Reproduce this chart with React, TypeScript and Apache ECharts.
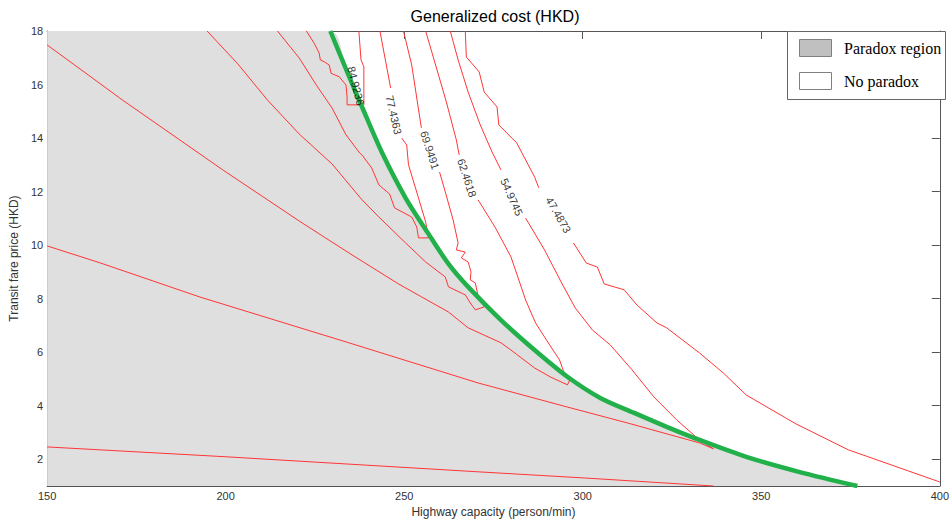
import { useEffect, useRef } from 'react';
import * as echarts from 'echarts';

// ---- axes ----
const X_MIN = 150;
const X_MAX = 400;
const X_STEP = 50;
const Y_MIN = 1;
const Y_MAX = 18;
const yTickValues = [2, 4, 6, 8, 10, 12, 14, 16, 18];

const TITLE = 'Generalized cost (HKD)';
const X_NAME = 'Highway capacity (person/min)';
const Y_NAME = 'Transit fare price (HKD)';
const legendNames = ['Paradox region', 'No paradox'];

// ---- paradox boundary (green) ----
const greenX = [229.3, 233.7, 238.2, 243.7, 250.4, 256.8, 262.4, 267.9, 277.1, 286.5, 295.7, 304.9, 314.4, 323.5, 332.7, 345.8, 360.5, 376.9];
const greenY = [18, 16.58, 15.16, 13.48, 11.76, 10.42, 9.3, 8.44, 7.2, 6.08, 5.08, 4.29, 3.73, 3.21, 2.72, 2.09, 1.53, 1.0];

// ---- contour lines (null = gap for the label) ----
type P = [number, number] | null;
const c849: P[] = [[222.6, 18], [224.8, 17.54], [226.2, 17.17], [226.5, 16.92], [227.6, 16.85], [229.0, 16.73], [229.5, 16.42], [231.8, 16.29], [233.7, 15.98], [234.0, 15.53], [234.0, 15.24], [238.7, 15.24], [238.7, 16.66], [237.9, 16.92], [237.3, 18]];
const c774: P[] = [[214.5, 18], [220.6, 16.99], [225.4, 15.98], [229.8, 15.12], [233.7, 14.12], [237.3, 13.48], [238.4, 13.33], [240.9, 12.88], [242.9, 12.25], [245.9, 11.91], [247.3, 11.39], [252.1, 11.05], [253.5, 10.68], [254.0, 10.27], [256.8, 10.27], [256.0, 10.87], [254.0, 11.76], [251.2, 13.0], [250.7, 13.74], [249.3, 14.0], null, [246.2, 15.87], [243.2, 18]];
const c699: P[] = [[194.8, 18], [203.4, 16.77], [211.7, 15.42], [220.6, 14.15], [229.8, 13.03], [234.5, 12.28], [238.2, 11.69], [242.9, 11.05], [250.4, 10.08], [256.0, 9.37], [261.5, 8.81], [262.4, 8.44], [267.1, 8.14], [268.5, 7.84], [269.9, 7.58], [272.4, 7.69], [271.5, 8.03], [270.7, 8.1], [269.9, 8.59], [268.5, 8.7], [268.7, 9.0], [267.9, 9.37], [266.0, 9.52], [267.1, 9.74], [264.6, 9.82], [265.1, 10.08], [263.7, 10.94], [261.5, 11.99], [259.9, 12.73], null, [254.8, 14.38], [252.1, 16.73], [249.8, 18]];
const c625: P[] = [[256.0, 18], [259.6, 16.36], [261.8, 15.35], [264.6, 13.93], [265.4, 13.37], null, [270.7, 11.69], [275.4, 10.68], [279.9, 9.56], [282.1, 8.7], [284.0, 7.95], [286.8, 7.09], [290.2, 6.38], [293.5, 5.71], [295.2, 5.07], [296.3, 4.93], [295.7, 4.78], [291.0, 5.07], [286.5, 5.41], [279.9, 6.08], [277.1, 6.35], [267.9, 6.91], [262.4, 7.5], [248.4, 8.55], [234.5, 9.71], [220.6, 10.9], [199.2, 12.81], [171.1, 15.42], [150, 17.48]];
const c550: P[] = [[262.9, 18], [265.1, 16.92], [267.9, 15.72], [271.3, 14.49], [274.6, 13.48], [277.1, 12.81], null, [284.0, 11.01], [289.3, 9.82], [293.8, 8.66], [297.9, 7.65], [302.7, 6.83], [307.7, 6.27], [313.8, 5.34], [319.9, 4.33], [326.3, 3.47], [332.7, 2.72], [335.2, 2.5], [336.6, 2.39], [332.7, 2.61], [312.4, 3.36], [295.7, 3.95], [270.7, 4.85], [234.5, 6.35], [192.8, 8.06], [165.0, 9.33], [150, 9.97]];
const c475: P[] = [[267.1, 18], [267.4, 17.03], [271.0, 16.47], [272.4, 15.72], [276.0, 15.16], [276.5, 14.49], [281.5, 13.82], [286.5, 12.55], [287.7, 12.14], null, [297.4, 10.08], [301.0, 9.33], [304.1, 9.18], [306.0, 8.55], [311.6, 8.33], [315.2, 7.76], [320.8, 7.09], [323.5, 6.91], [332.7, 5.97], [339.4, 5.22], [345.8, 4.4], [359.7, 3.32], [374.4, 2.35], [400, 1.15]];
const c400: P[] = [[150, 2.46], [200.3, 2.09], [270.7, 1.53], [300.5, 1.3], [336.6, 1.0]];
const contours = [c849, c774, c699, c625, c550, c475, c400];

// ---- contour labels ----
const labelText = ['84.9236', '77.4363', '69.9491', '62.4618', '54.9745', '47.4873'];
const labelX = [236.5, 247.1, 257.2, 267.6, 280.1, 293.2];
const labelY = [15.95, 14.86, 13.55, 12.51, 11.8, 11.13];
const labelRotate = [-76, -77, -72, -72, -66, -60];

const RED = '#ff3535';
const GREEN = '#22b04b';
const GRAY = '#dfdfdf';
const AXIS = '#555555';
const SANS = '"Liberation Sans", Arial, sans-serif';
const SERIF = '"Liberation Serif", "Times New Roman", serif';

function splitSegments(pts: P[]): [number, number][][] {
  const out: [number, number][][] = [];
  let cur: [number, number][] = [];
  pts.forEach((p) => {
    if (p === null) {
      if (cur.length) out.push(cur);
      cur = [];
    } else cur.push(p);
  });
  if (cur.length) out.push(cur);
  return out;
}

export default function App() {
  const ref = useRef<HTMLDivElement>(null);
  useEffect(() => {
    const chart = echarts.init(ref.current!, null, { renderer: 'svg' });
    const green = greenX.map((x, i) => [x, greenY[i]]);
    const areaData = [[X_MIN, Y_MAX], ...green];

    const series: any[] = [];
    series.push({
      type: 'line',
      data: areaData,
      symbol: 'none',
      smooth: 0.3,
      lineStyle: { width: 0 },
      areaStyle: { color: GRAY, opacity: 1, origin: 'start' },
      silent: true,
      z: 1,
    });
    contours.forEach((c) => {
      splitSegments(c).forEach((seg) => {
        series.push({
          type: 'line',
          data: seg,
          symbol: 'none',
          lineStyle: { color: RED, width: 1 },
          silent: true,
          z: 2,
        });
      });
    });
    series.push({
      type: 'line',
      data: green,
      symbol: 'none',
      smooth: 0.3,
      lineStyle: { color: GREEN, width: 4.5 },
      silent: true,
      z: 3,
    });
    series.push({
      type: 'scatter',
      symbolSize: 1,
      itemStyle: { color: 'rgba(0,0,0,0)' },
      silent: true,
      z: 4,
      data: labelText.map((t, i) => ({
        value: [labelX[i], labelY[i]],
        label: {
          show: true,
          position: 'inside',
          formatter: t,
          rotate: labelRotate[i],
          color: '#000',
          fontSize: 11,
          fontFamily: SANS,
        },
      })),
    });

    const tick = { inside: true, length: 8, lineStyle: { color: AXIS, width: 1 } };
    const line = { show: true, onZero: false, lineStyle: { color: AXIS, width: 1 } };
    const lbl = { color: '#333', fontSize: 11, fontFamily: SANS, margin: 4 };

    const option: any = {
      animation: false,
      backgroundColor: '#fff',
      grid: { left: 46, right: 6.5, top: 31, bottom: 39, containLabel: false },
      xAxis: [
        {
          type: 'value', min: X_MIN, max: X_MAX, interval: X_STEP, position: 'bottom',
          axisLine: line, axisTick: tick, splitLine: { show: false },
          axisLabel: { ...lbl, showMinLabel: true, showMaxLabel: true, hideOverlap: false },
          name: X_NAME, nameLocation: 'middle', nameGap: 20,
          nameTextStyle: { color: '#333', fontSize: 12, fontFamily: SANS },
        },
        {
          type: 'value', min: X_MIN, max: X_MAX, interval: X_STEP, position: 'top',
          axisLine: line, axisTick: tick, splitLine: { show: false }, axisLabel: { show: false },
        },
      ],
      yAxis: [
        {
          type: 'value', min: Y_MIN, max: Y_MAX, position: 'left',
          axisLine: line,
          axisTick: { ...tick, customValues: yTickValues },
          splitLine: { show: false },
          axisLabel: { ...lbl, customValues: yTickValues },
          name: Y_NAME, nameLocation: 'middle', nameGap: 17, nameRotate: 90,
          nameTextStyle: { color: '#333', fontSize: 12, fontFamily: SANS },
        },
        {
          type: 'value', min: Y_MIN, max: Y_MAX, position: 'right',
          axisLine: line,
          axisTick: { ...tick, customValues: yTickValues },
          splitLine: { show: false },
          axisLabel: { show: false, customValues: yTickValues },
        },
      ],
      series,
      graphic: [
        {
          type: 'text', x: 495, y: 16, z: 10,
          style: { text: TITLE, font: `16px ${SANS}`, fill: '#000', textAlign: 'center', textVerticalAlign: 'middle', align: 'center', verticalAlign: 'middle' },
        },
        {
          type: 'rect', z: 10, shape: { x: 787.5, y: 31.5, width: 158, height: 68 },
          style: { fill: '#fff', stroke: '#666', lineWidth: 1 },
        },
        {
          type: 'rect', z: 11, shape: { x: 799.5, y: 39.5, width: 32, height: 17 },
          style: { fill: '#c0c0c0', stroke: '#808080', lineWidth: 1 },
        },
        {
          type: 'rect', z: 11, shape: { x: 799.5, y: 72.5, width: 32, height: 17 },
          style: { fill: '#fff', stroke: '#808080', lineWidth: 1 },
        },
        {
          type: 'text', x: 844, y: 48, z: 11,
          style: { text: legendNames[0], font: `16px ${SERIF}`, fill: '#000', textAlign: 'left', textVerticalAlign: 'middle', align: 'left', verticalAlign: 'middle' },
        },
        {
          type: 'text', x: 844, y: 81, z: 11,
          style: { text: legendNames[1], font: `16px ${SERIF}`, fill: '#000', textAlign: 'left', textVerticalAlign: 'middle', align: 'left', verticalAlign: 'middle' },
        },
      ],
    };
    chart.setOption(option);
    return () => chart.dispose();
  }, []);
  return (
    <div
      ref={ref}
      style={{ position: 'fixed', left: 0, top: 0, width: 952, height: 525, background: '#fff' }}
    />
  );
}
